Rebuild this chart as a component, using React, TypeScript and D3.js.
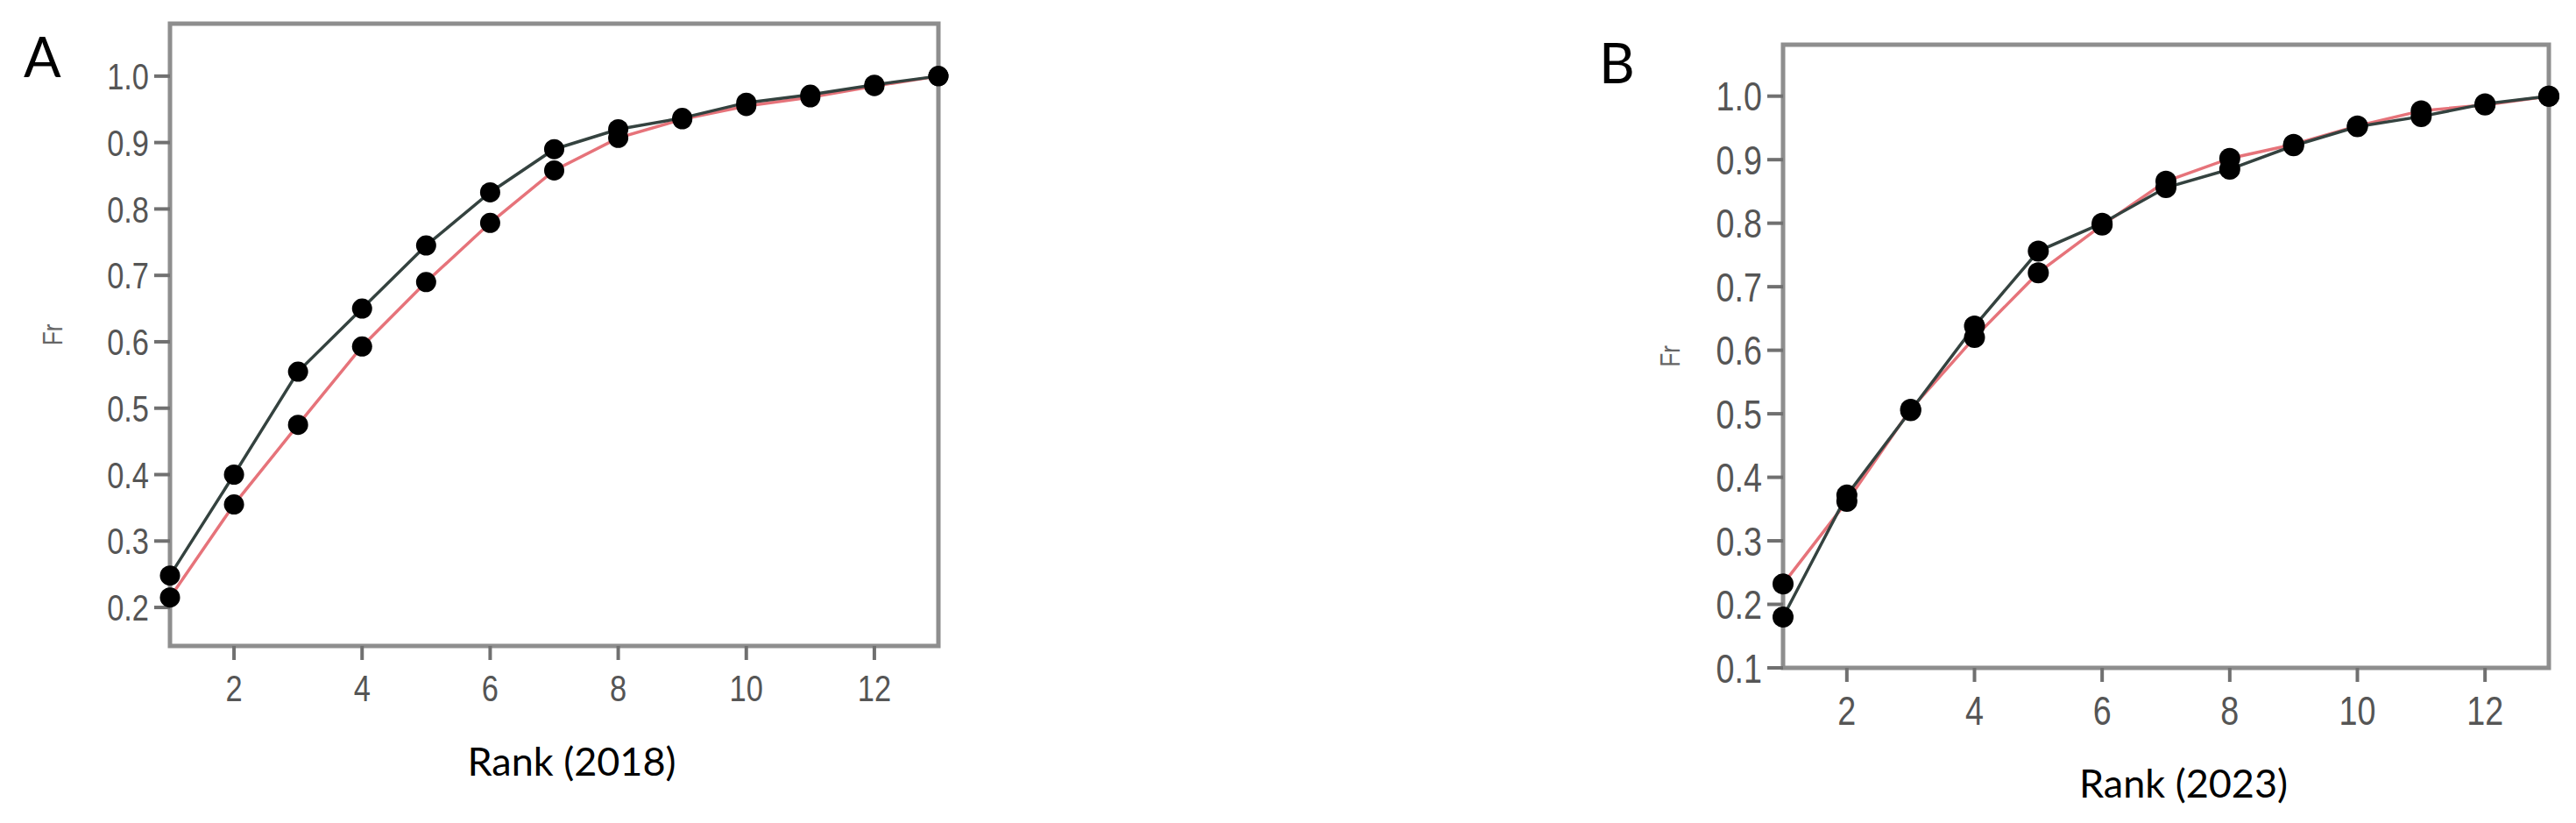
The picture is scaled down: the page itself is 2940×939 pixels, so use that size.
import React from "react";
import * as d3 from "d3";

const WIDTH = 2940;
const HEIGHT = 939;

// ranks shared by both panels
const ranks = [1, 2, 3, 4, 5, 6, 7, 8, 9, 10, 11, 12, 13];

// panel A (2018)
const frDark2018 = [0.248, 0.4, 0.555, 0.65, 0.745, 0.825, 0.89, 0.92, 0.937, 0.96, 0.972, 0.987, 1.0];
const frRed2018 = [0.215, 0.355, 0.475, 0.593, 0.69, 0.779, 0.858, 0.907, 0.935, 0.955, 0.968, 0.985, 1.0];

// panel B (2023)
const frDark2023 = [0.18, 0.372, 0.505, 0.638, 0.756, 0.8, 0.856, 0.885, 0.922, 0.952, 0.968, 0.988, 1.0];
const frRed2023 = [0.232, 0.362, 0.507, 0.62, 0.722, 0.797, 0.866, 0.902, 0.924, 0.953, 0.977, 0.986, 1.0];

const xTicks = [2, 4, 6, 8, 10, 12];
const yTicks2018 = [0.2, 0.3, 0.4, 0.5, 0.6, 0.7, 0.8, 0.9, 1.0];
const yTicks2023 = [0.1, 0.2, 0.3, 0.4, 0.5, 0.6, 0.7, 0.8, 0.9, 1.0];

const DARK = "#34423f";
const RED = "#e6737a";
const FRAME = "#8e8e8e";
const TICK_TEXT = "#555";
const NARROW = "'Liberation Sans', Arial, sans-serif";
const SANS = "Lato, 'Open Sans', sans-serif";
const SQUEEZE = 0.82; // fake a narrow face

function NarrowText({ x, y, anchor, size, fill, children, rotate = 0 }) {
  return (
    <text
      transform={`translate(${x},${y}) rotate(${rotate}) scale(${SQUEEZE},1)`}
      dy="0.36em"
      textAnchor={anchor}
      fontFamily={NARROW}
      fontSize={size}
      fill={fill}
    >
      {children}
    </text>
  );
}

function Panel({ letter, title, dark, red, yTicks, yDomain, box, tickFont, letterPos, frX }) {
  const x = d3.scaleLinear().domain([1, 13]).range([box.left, box.right]);
  const y = d3.scaleLinear().domain(yDomain).range([box.bottom, box.top]);

  const line = d3
    .line<number>()
    .x((d, i) => x(ranks[i]))
    .y((d) => y(d));

  const midY = (box.top + box.bottom) / 2;

  return (
    <g>
      <text x={letterPos[0]} y={letterPos[1]} fontFamily={SANS} fontSize={63} fill="#000">
        {letter}
      </text>

      {/* frame */}
      <rect
        x={box.left}
        y={box.top}
        width={box.right - box.left}
        height={box.bottom - box.top}
        fill="none"
        stroke={FRAME}
        strokeWidth={5}
      />

      {/* y axis */}
      {yTicks.map((t) => (
        <g key={"y" + t}>
          <line x1={box.left - 18} x2={box.left} y1={y(t)} y2={y(t)} stroke="#707070" strokeWidth={4} />
          <NarrowText x={box.left - 24} y={y(t)} anchor="end" size={tickFont} fill={TICK_TEXT}>
            {t.toFixed(1)}
          </NarrowText>
        </g>
      ))}

      {/* x axis */}
      {xTicks.map((t) => (
        <g key={"x" + t}>
          <line x1={x(t)} x2={x(t)} y1={box.bottom} y2={box.bottom + 16} stroke="#707070" strokeWidth={4} />
          <NarrowText x={x(t)} y={box.bottom + 48} anchor="middle" size={tickFont} fill={TICK_TEXT}>
            {t}
          </NarrowText>
        </g>
      ))}

      <NarrowText x={frX} y={midY} anchor="middle" size={32} fill="#666" rotate={-90}>
        Fr
      </NarrowText>

      <text
        x={(box.left + box.right) / 2 + 20}
        y={box.bottom + 148}
        textAnchor="middle"
        fontFamily={SANS}
        fontSize={45}
        fill="#000"
      >
        {title}
      </text>

      <path d={line(red) || ""} fill="none" stroke={RED} strokeWidth={3.5} />
      <path d={line(dark) || ""} fill="none" stroke={DARK} strokeWidth={3.5} />

      {[dark, red].map((series, si) =>
        series.map((v, i) => (
          <circle key={si + "-" + i} cx={x(ranks[i])} cy={y(v)} r={box.r} fill="#000" />
        ))
      )}
    </g>
  );
}

export default function App() {
  return (
    <svg
      width={WIDTH}
      height={HEIGHT}
      style={{ position: "absolute", left: 0, top: 0, background: "#fff" }}
    >
      <rect width={WIDTH} height={HEIGHT} fill="#fff" />
      <Panel
        letter="A"
        title="Rank (2018)"
        dark={frDark2018}
        red={frRed2018}
        yTicks={yTicks2018}
        yDomain={[0.142, 1.079]}
        box={{ left: 194, right: 1071, top: 27, bottom: 737, r: 11.5 }}
        tickFont={42}
        letterPos={[27, 88]}
        frX={59}
      />
      <Panel
        letter="B"
        title="Rank (2023)"
        dark={frDark2023}
        red={frRed2023}
        yTicks={yTicks2023}
        yDomain={[0.1, 1.081]}
        box={{ left: 2035, right: 2909, top: 51, bottom: 762, r: 12 }}
        tickFont={46}
        letterPos={[1825, 95]}
        frX={1905}
      />
    </svg>
  );
}
